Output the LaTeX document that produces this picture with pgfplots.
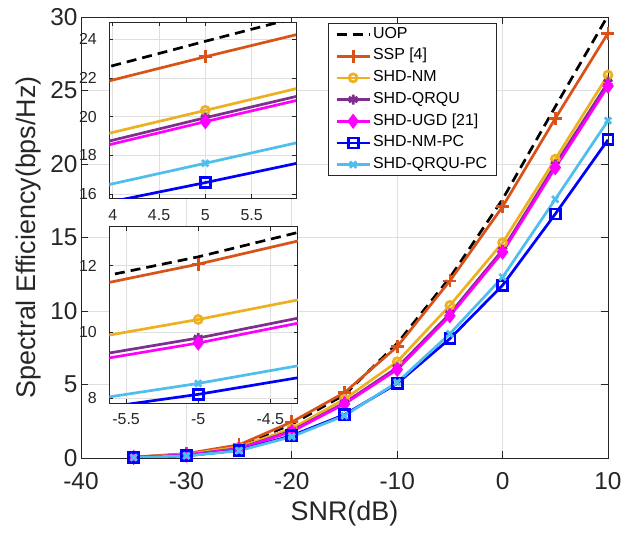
\documentclass[border=0pt]{standalone}
\usepackage{fontspec}
\setmainfont{Liberation Sans}
\usepackage{pgfplots}
\usepackage{pgfplotstable}
\pgfplotsset{compat=1.18}

\definecolor{sspc}{RGB}{217,83,25}
\definecolor{nmc}{RGB}{237,177,32}
\definecolor{qrquc}{RGB}{126,47,142}
\definecolor{ugdc}{RGB}{255,0,255}
\definecolor{nmpcc}{RGB}{0,0,255}
\definecolor{qrqupcc}{RGB}{77,190,238}
\definecolor{axc}{RGB}{38,38,38}
\definecolor{gridc}{RGB}{223,223,223}

\newcommand\fa{\fontsize{24.5}{29}\selectfont}
\newcommand\fl{\fontsize{27}{32}\selectfont}
\newcommand\fs{\fontsize{16}{19}\selectfont}

% spectral efficiency (bps/Hz) vs SNR (dB)
\pgfplotstableread{
snr  uop   ssp   nm    qrqu  ugd   nmpc  qrqupc
-35  0.05  0.06  0.05  0.05  0.04  0.03  0.03
-30  0.25  0.30  0.25  0.20  0.20  0.15  0.15
-25  0.80  0.90  0.75  0.65  0.62  0.52  0.50
-20  2.30  2.45  2.00  1.85  1.80  1.52  1.45
-15  4.30  4.45  4.00  3.75  3.68  2.95  2.88
-10  7.80  7.58  6.55  6.15  6.02  5.07  5.15
-5   12.27 12.05 10.38 9.82  9.67  8.12  8.45
0    17.60 17.10 14.65 14.15 14.00 11.75 12.30
5    23.90 23.10 20.33 19.95 19.75 16.60 17.60
10   30.10 28.90 26.05 25.55 25.30 21.65 22.95
}\data

\pgfplotsset{
  every axis plot/.append style={line width=2.7bp, mark options={solid}},
  s uop/.style={black, dash pattern=on 10bp off 6bp, no marks},
  s ssp/.style={sspc, mark=+, mark size=6.5bp},
  s nm/.style={nmc, mark=o, mark size=4bp},
  s qrqu/.style={qrquc, mark=asterisk, mark size=5bp},
  s ugd/.style={ugdc, mark=diamond*, mark size=5.5bp},
  s nmpc/.style={nmpcc, mark=square, mark size=5bp},
  s qrqupc/.style={qrqupcc, mark=x, mark size=4.5bp},
  common/.style={
    scale only axis, anchor=south west,
    grid=major, major grid style={draw=gridc, line width=0.6bp},
    axis line style={draw=axc, line width=0.8bp},
    tick style={axc, line width=0.8bp},
    ticklabel style={text=axc},
    /pgf/number format/assume math mode=true,
  },
}

\newcommand\curves{%
  \addplot[s uop] table[x=snr,y=uop]{\data};
  \addplot[s ssp] table[x=snr,y=ssp]{\data};
  \addplot[s nm] table[x=snr,y=nm]{\data};
  \addplot[s qrqu] table[x=snr,y=qrqu]{\data};
  \addplot[s ugd] table[x=snr,y=ugd]{\data};
  \addplot[s nmpc] table[x=snr,y=nmpc]{\data};
  \addplot[s qrqupc] table[x=snr,y=qrqupc]{\data};
}

\begin{document}
\begin{tikzpicture}
\begin{axis}[common, at={(0,0)},
  width=527bp, height=441bp,
  xmin=-40, xmax=10, ymin=0, ymax=30,
  xtick={-40,-30,...,10}, ytick={0,5,...,30},
  major tick length=7bp,
  ticklabel style={font=\fa},
  xticklabel style={yshift=-11bp},
  xlabel={SNR(dB)}, ylabel={Spectral Efficiency(bps/Hz)},
  label style={font=\fl, text=axc},
  xlabel style={at={(axis description cs:0.5,-0.125)}, anchor=center},
  ylabel style={at={(axis description cs:-0.1,0.5)}, anchor=center},
  legend entries={UOP,{SSP [4]},SHD-NM,SHD-QRQU,{SHD-UGD [21]},SHD-NM-PC,SHD-QRQU-PC},
  legend image code/.code={\draw[mark repeat=2,mark phase=2,#1] plot coordinates {(0bp,0bp)(16.5bp,0bp)(33bp,0bp)};},
  legend style={font=\fs, text=black, draw=axc, line width=0.6bp, fill=white,
    at={(0.4687,0.9857)}, anchor=north west, inner xsep=7bp, inner ysep=0bp,
    row sep=0pt, nodes={inner xsep=2bp, inner ysep=3bp, text height=11.6bp, text depth=4.1bp}},
  legend cell align=left,
]
\curves
\end{axis}

\begin{axis}[common, at={(28.3bp,259.7bp)},
  width=186.7bp, height=176bp, axis background/.style={fill=white},
  xmin=3.963, xmax=5.98, ymin=15.79, ymax=24.88,
  xtick={4,4.5,5,5.5}, ytick={16,18,...,24},
  major tick length=4bp, clip marker paths=true,
  ticklabel style={font=\fs},
  xticklabel style={yshift=-8bp}, yticklabel style={xshift=-9bp},
]
\curves
\end{axis}

\begin{axis}[common, at={(28.3bp,54.7bp)},
  width=188.4bp, height=176.6bp, axis background/.style={fill=white},
  xmin=-5.616, xmax=-4.31, ymin=7.85, ymax=13.18,
  xtick={-5.5,-5,-4.5}, ytick={8,10,12},
  major tick length=4bp, clip marker paths=true,
  ticklabel style={font=\fs},
  xticklabel style={yshift=-7bp}, yticklabel style={xshift=-9bp},
]
\curves
\end{axis}
\pgfresetboundingbox
\path (-81bp,-78bp) rectangle (543bp,458bp);
\end{tikzpicture}
\end{document}
